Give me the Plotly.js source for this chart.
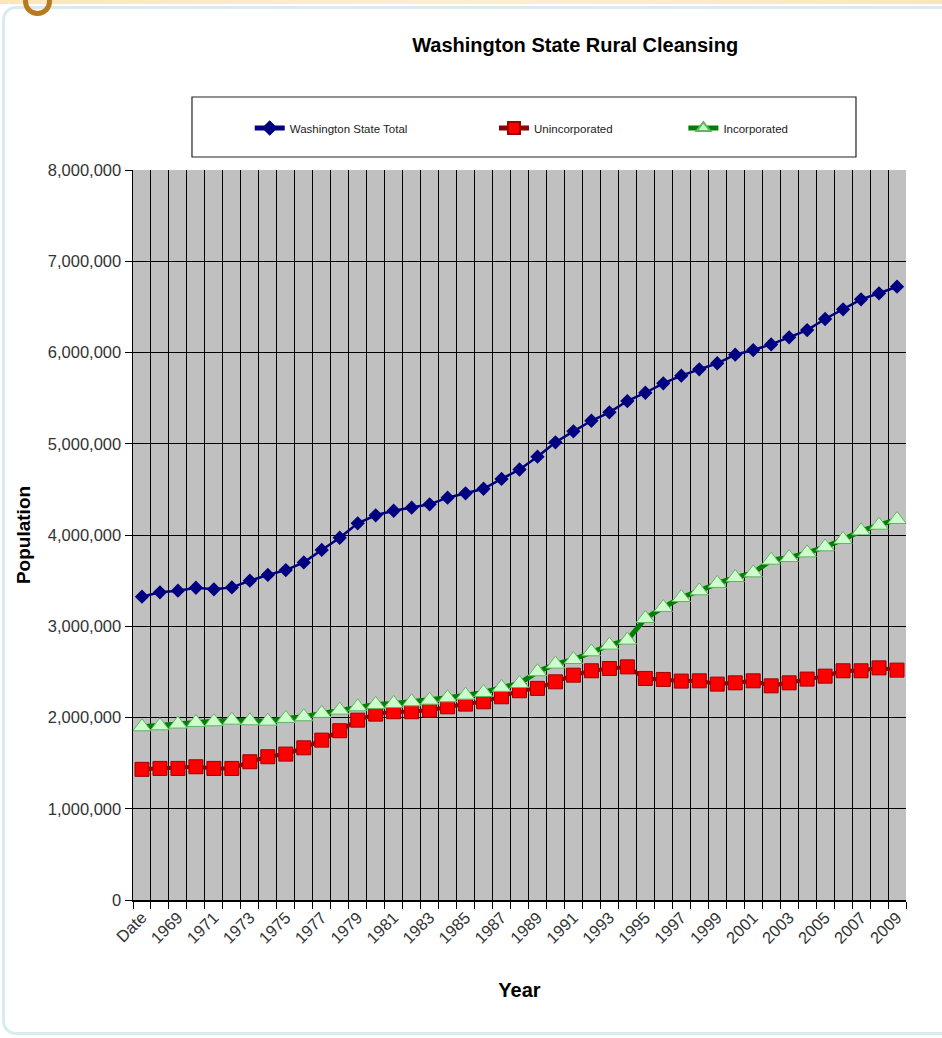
<!DOCTYPE html>
<html>
<head>
<meta charset="utf-8">
<script src="https://cdn.plot.ly/plotly-3.0.1.min.js"></script>
<style>
  html, body { margin: 0; padding: 0; background: #ffffff; width: 942px; height: 1038px; overflow: hidden; }
  #frame { position: absolute; left: 2px; top: 6px; width: 960px; height: 1029px; border: 3px solid #d9ebee; border-radius: 14px; box-sizing: border-box; }
  #band { position: absolute; left: 0; top: 0; width: 942px; height: 4px; background: linear-gradient(to right, #fbe6b8, #fcefd0, #fbe6b8); }
  #ring { position: absolute; left: 23px; top: -13px; width: 29px; height: 29px; border: 5px solid #b97a1f; border-radius: 50%; box-sizing: border-box; }
  #plot { position: absolute; left: 0; top: 0; width: 942px; height: 1038px; }
</style>
</head>
<body>
<div id="frame"></div>
<div id="plot"></div>
<div id="band"></div>
<div id="ring"></div>
<script>
// ---- Data ----
var categories = ['Date', '1968', '1969', '1970', '1971', '1972', '1973', '1974', '1975', '1976',
  '1977', '1978', '1979', '1980', '1981', '1982', '1983', '1984', '1985', '1986',
  '1987', '1988', '1989', '1990', '1991', '1992', '1993', '1994', '1995', '1996',
  '1997', '1998', '1999', '2000', '2001', '2002', '2003', '2004', '2005', '2006',
  '2007', '2008', '2009'];

var washingtonTotal = [3324000, 3372000, 3390000, 3422000, 3405000, 3426000, 3499000, 3562000, 3616000, 3700000,
  3836000, 3970000, 4128000, 4216000, 4266000, 4299000, 4336000, 4409000, 4457000, 4507000,
  4614000, 4718000, 4858000, 5016000, 5136000, 5252000, 5344000, 5468000, 5559000, 5662000,
  5746000, 5816000, 5882000, 5976000, 6027000, 6089000, 6166000, 6246000, 6367000, 6473000,
  6583000, 6649000, 6721000];

var unincorporated = [1432000, 1442000, 1442000, 1460000, 1442000, 1442000, 1515000, 1570000, 1599000, 1668000,
  1752000, 1855000, 1971000, 2037000, 2063000, 2063000, 2081000, 2117000, 2147000, 2172000,
  2227000, 2293000, 2319000, 2391000, 2464000, 2512000, 2537000, 2555000, 2428000, 2417000,
  2399000, 2402000, 2366000, 2380000, 2402000, 2347000, 2380000, 2421000, 2453000, 2512000,
  2512000, 2544000, 2519000];

var incorporated = [1898000, 1909000, 1928000, 1946000, 1953000, 1971000, 1964000, 1960000, 1990000, 2008000,
  2045000, 2081000, 2117000, 2143000, 2154000, 2172000, 2190000, 2216000, 2245000, 2274000,
  2330000, 2373000, 2501000, 2585000, 2636000, 2720000, 2793000, 2848000, 3085000, 3206000,
  3315000, 3388000, 3469000, 3534000, 3585000, 3724000, 3753000, 3804000, 3870000, 3951000,
  4045000, 4107000, 4170000];

var seriesNames = ['Washington State Total', 'Unincorporated', 'Incorporated'];
var tickLabels = categories.map(function (c, i) { return i % 2 === 0 ? c : ''; });

// ---- Traces ----
var FONT = 'Arial, "Liberation Sans", sans-serif';
var traces = [
  {
    type: 'scatter', mode: 'lines+markers', name: seriesNames[0],
    x: categories, y: washingtonTotal, legend: 'legend',
    line: { color: '#000080', width: 2.5 },
    marker: { symbol: 'diamond', size: 11, color: '#000080', line: { color: '#000080', width: 0 } }
  },
  {
    type: 'scatter', mode: 'lines+markers', name: seriesNames[1],
    x: categories, y: unincorporated, legend: 'legend2',
    line: { color: '#8b0000', width: 4 },
    marker: { symbol: 'square', size: 14, color: '#ff0000', line: { color: '#a00000', width: 1 } }
  },
  {
    type: 'scatter', mode: 'lines+markers', name: seriesNames[2],
    x: categories, y: incorporated, legend: 'legend3',
    line: { color: '#008000', width: 5 },
    marker: { symbol: 'triangle-up', size: 16, color: '#ccffcc', line: { color: '#5fb45f', width: 1 } }
  }
];

var legendBase = {
  orientation: 'h', yanchor: 'middle', xanchor: 'left', y: 1.0575,
  bgcolor: 'rgba(0,0,0,0)', borderwidth: 0,
  font: { family: FONT, size: 11.5, color: '#222222' },
  itemsizing: 'constant'
};
function legendAt(x) { var o = JSON.parse(JSON.stringify(legendBase)); o.x = x; return o; }

var layout = {
  width: 942, height: 1038,
  margin: { l: 133, r: 36, t: 170, b: 138 },
  paper_bgcolor: 'rgba(0,0,0,0)',
  plot_bgcolor: '#c0c0c0',
  font: { family: FONT, color: '#333333' },
  title: {
    text: 'Washington State Rural Cleansing',
    font: { family: FONT, size: 20, color: '#000000', weight: 'bold' },
    x: 0.572, xref: 'paper', xanchor: 'center',
    y: 0.957, yref: 'container', yanchor: 'middle'
  },
  showlegend: true,
  legend: legendAt(0.151),
  legend2: legendAt(0.467),
  legend3: legendAt(0.712),
  xaxis: {
    type: 'category',
    range: [-0.5, categories.length - 0.5],
    tickmode: 'array', tickvals: categories, ticktext: tickLabels,
    tickson: 'boundaries',
    ticks: 'outside', ticklen: 7, tickcolor: '#000000', tickwidth: 1,
    showgrid: true, gridcolor: '#000000', gridwidth: 1,
    showline: true, linecolor: '#000000', linewidth: 1.5,
    tickangle: -45,
    tickfont: { family: FONT, size: 16.5, color: '#333333' },
    title: { text: 'Year', font: { family: FONT, size: 20, color: '#000000', weight: 'bold' }, standoff: 37 },
    zeroline: false, fixedrange: true
  },
  yaxis: {
    range: [0, 8000000], dtick: 1000000, tick0: 0,
    tickformat: ',d',
    ticks: 'outside', ticklen: 7, tickcolor: '#000000', tickwidth: 1,
    showgrid: true, gridcolor: '#000000', gridwidth: 1,
    showline: true, linecolor: '#000000', linewidth: 1.5,
    tickfont: { family: FONT, size: 16.5, color: '#333333' },
    title: { text: 'Population', font: { family: FONT, size: 19, color: '#000000', weight: 'bold' }, standoff: 12 },
    zeroline: false, fixedrange: true
  },
  shapes: [
    {
      type: 'rect', xref: 'paper', yref: 'paper',
      x0: 0.0763, x1: 0.9353, y0: 1.0178, y1: 1.1,
      line: { color: '#222222', width: 1.2 }, fillcolor: '#ffffff', layer: 'below'
    }
  ]
};

Plotly.newPlot('plot', traces, layout, { staticPlot: true, displayModeBar: false });
</script>
</body>
</html>
